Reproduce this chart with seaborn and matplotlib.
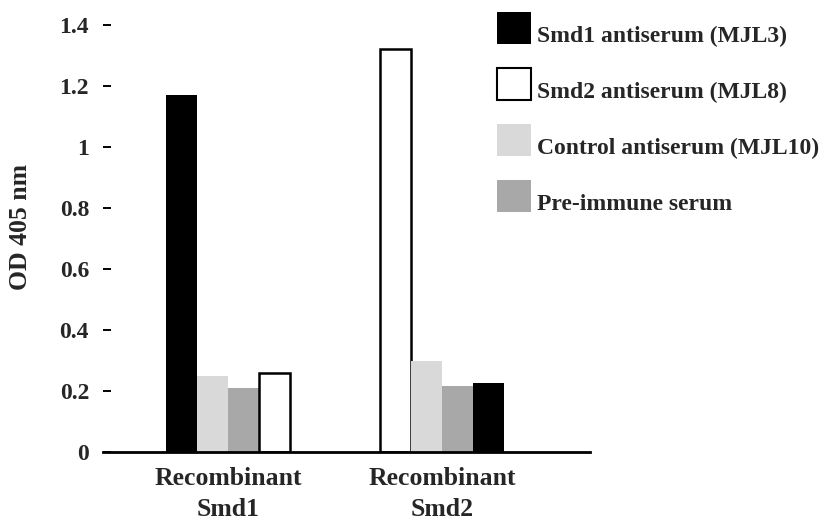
import matplotlib
matplotlib.use("Agg")
import matplotlib.pyplot as plt
from matplotlib.patches import Rectangle
import seaborn as sns
import pandas as pd

# ---- data ----
categories = ["Recombinant\nSmd1", "Recombinant\nSmd2"]
antisera = ["Smd1 antiserum (MJL3)", "Smd2 antiserum (MJL8)",
            "Control antiserum (MJL10)", "Pre-immune serum"]
smd1_antiserum = [1.17, 0.225]
smd2_antiserum = [0.26, 1.32]
control_antiserum = [0.25, 0.30]
preimmune_serum = [0.21, 0.215]
# bar order inside each group: homologous, control, pre-immune, heterologous
group_order = [
    ["Smd1 antiserum (MJL3)", "Control antiserum (MJL10)", "Pre-immune serum", "Smd2 antiserum (MJL8)"],
    ["Smd2 antiserum (MJL8)", "Control antiserum (MJL10)", "Pre-immune serum", "Smd1 antiserum (MJL3)"],
]
yticks = [0, 0.2, 0.4, 0.6, 0.8, 1, 1.2, 1.4]
ytick_labels = ["0", "0.2", "0.4", "0.6", "0.8", "1", "1.2", "1.4"]

colors = {
    "Smd1 antiserum (MJL3)": "#000000",
    "Smd2 antiserum (MJL8)": "#ffffff",
    "Control antiserum (MJL10)": "#d9d9d9",
    "Pre-immune serum": "#a8a8a8",
}

values = {
    "Smd1 antiserum (MJL3)": smd1_antiserum,
    "Smd2 antiserum (MJL8)": smd2_antiserum,
    "Control antiserum (MJL10)": control_antiserum,
    "Pre-immune serum": preimmune_serum,
}

rows = []
for gi, cat in enumerate(categories):
    for slot, serum in enumerate(group_order[gi]):
        rows.append({"category": cat, "slot": slot, "serum": serum,
                     "od": values[serum][gi]})
df = pd.DataFrame(rows)

sns.set_theme(style="white")
plt.rcParams["font.family"] = ["Liberation Serif", "DejaVu Serif"]
plt.rcParams["font.weight"] = "bold"

W, H = 832, 520
fig = plt.figure(figsize=(W / 100, H / 100), dpi=100)
ax = fig.add_axes([103 / W, 1 - 452 / H, 487 / W, 427 / H])

sns.barplot(data=df, x="category", y="od", hue="slot",
            order=categories, hue_order=[0, 1, 2, 3], width=0.58, gap=0,
            dodge=True, legend=False, ax=ax, errorbar=None, palette=["k"] * 4)

# recolor each bar according to its serum
for slot, cont in enumerate(ax.containers):
    for gi, bar in enumerate(cont):
        serum = group_order[gi][slot]
        bar.set_facecolor(colors[serum])
        if serum == "Smd2 antiserum (MJL8)":
            bar.set_edgecolor("black")
            bar.set_linewidth(1.8)
        else:
            bar.set_edgecolor(colors[serum])
            bar.set_linewidth(0)

ax.set_xlim(-0.584, 1.69)
ax.set_ylim(0, 1.4)
ax.set_yticks(yticks)
ax.set_yticklabels(ytick_labels, fontsize=17, fontweight="bold")
for lab in ax.get_xticklabels():
    lab.set_fontsize(18.5)
    lab.set_fontweight("bold")
    lab.set_linespacing(1.45)
ax.tick_params(axis="y", direction="in", length=6, width=1.4, pad=10,
               left=True, color="black")
ax.tick_params(axis="x", length=0, pad=11)

for s in ["top", "right", "left"]:
    ax.spines[s].set_visible(False)
ax.spines["bottom"].set_color("black")
ax.spines["bottom"].set_linewidth(2)

ax.set_xlabel("")
ax.set_ylabel("OD 405 nm", fontsize=18.5, fontweight="bold")
ax.yaxis.set_label_coords(-0.146, 0.527)

# legend drawn as squares + text (figure pixel layout)
sq_left, sq_w, sq_h = 497, 34, 32
sq_tops = [12, 68, 124, 180]
for serum, top in zip(antisera, sq_tops):
    is_white = serum == "Smd2 antiserum (MJL8)"
    fig.add_artist(Rectangle((sq_left / W, 1 - (top + sq_h) / H), sq_w / W, sq_h / H,
                             transform=fig.transFigure,
                             facecolor=colors[serum],
                             edgecolor="black" if is_white else colors[serum],
                             linewidth=1.5 if is_white else 0))
    fig.text(537 / W, 1 - (top + sq_h - 2) / H, serum, ha="left", va="baseline",
             fontsize=17, fontweight="bold")

fig.savefig("out.png", dpi=100)
